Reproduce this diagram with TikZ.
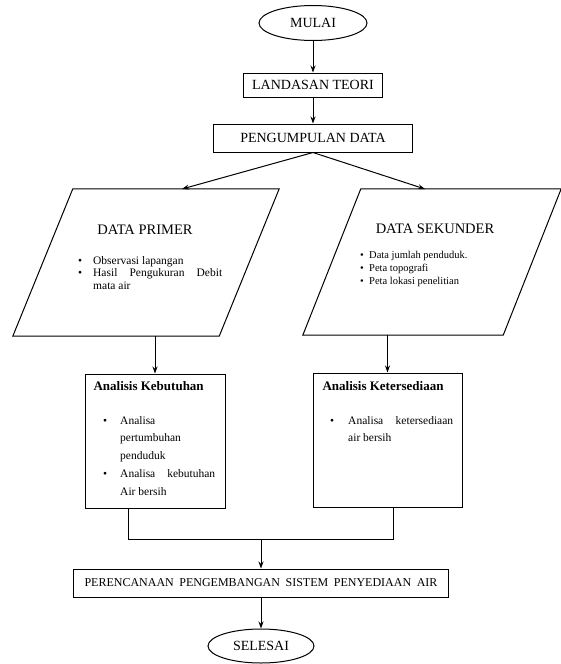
\documentclass[tikz,border=0pt]{standalone}
\usepackage{fontspec}
\setmainfont{Liberation Serif}
\usetikzlibrary{shapes.geometric,arrows.meta}
\tikzset{term/.style={draw, ellipse, line width=1pt, inner sep=0pt, font=\fontsize{14}{16}\selectfont}}
\tikzset{proc/.style={draw, rectangle, line width=1pt, inner sep=0pt, font=\fontsize{14}{16}\selectfont}}
\tikzset{io/.style={rectangle, inner sep=0pt}}
\tikzset{flow/.style={line width=1pt, -{Stealth[length=7pt,width=5pt]}}}
\tikzset{link/.style={line width=1pt}}
\tikzset{head/.style={font=\fontsize{14.5}{17}\selectfont}}
\tikzset{sub/.style={anchor=west, font=\bfseries\fontsize{13}{15}\selectfont}}
\tikzset{list/.style={anchor=north west, align=left, inner sep=0pt}}
\newcommand{\dotitem}[1]{\makebox[#1][l]{\textbullet}}

\begin{document}
\begin{tikzpicture}[x=1pt, y=-1pt]
    \useasboundingbox (0,0) rectangle (561,664);

    \node (mulai) at (313, 23) [term, minimum width=108pt, minimum height=35pt] {MULAI};
    \node (teori) at (313, 85) [proc, minimum width=139pt, minimum height=24pt] {LANDASAN TEORI};
    \node (kumpul) at (313, 138) [proc, minimum width=199pt, minimum height=28pt] {PENGUMPULAN DATA};

    % slanted input boxes
    \node (primer) at (146, 262.5) [io, minimum width=266pt, minimum height=147pt] {};
    \draw [link] ([xshift=60pt]primer.north west) -- (primer.north east)
        -- ([xshift=-60pt]primer.south east) -- (primer.south west) -- cycle;
    \node (primer-t) at (145, 230) [head] {DATA PRIMER};
    \node (primer-l) at (78, 256) [list, font=\fontsize{11.5}{12.5}\selectfont]
        {\dotitem{15pt}Observasi lapangan\\
         \dotitem{15pt}\makebox[129pt][s]{Hasil Pengukuran Debit}\\
         \hspace*{15pt}mata air};

    \node (sekunder) at (432, 262) [io, minimum width=258pt, minimum height=146pt] {};
    \draw [link] ([xshift=58pt]sekunder.north west) -- (sekunder.north east)
        -- ([xshift=-58pt]sekunder.south east) -- (sekunder.south west) -- cycle;
    \node (sekunder-t) at (435, 229) [head] {DATA SEKUNDER};
    \node (sekunder-l) at (360, 251) [list, font=\fontsize{10.5}{13}\selectfont]
        {\dotitem{9pt}Data jumlah penduduk.\\
         \dotitem{9pt}Peta topografi\\
         \dotitem{9pt}Peta lokasi penelitian};

    \node (butuh) at (155, 441) [proc, minimum width=140pt, minimum height=134pt] {};
    \node (butuh-t) at (90, 386) [sub] {Analisis Kebutuhan};
    \node (butuh-l) at (103, 416) [list, font=\fontsize{11.5}{17.8}\selectfont]
        {\dotitem{17pt}Analisa\\
         \hspace*{17pt}pertumbuhan\\
         \hspace*{17pt}penduduk\\
         \dotitem{17pt}\makebox[95pt][s]{Analisa kebutuhan}\\
         \hspace*{17pt}Air bersih};

    \node (sedia) at (387.5, 440) [proc, minimum width=149pt, minimum height=134pt] {};
    \node (sedia-t) at (319, 386) [sub] {Analisis Ketersediaan};
    \node (sedia-l) at (330, 416) [list, font=\fontsize{11.5}{17}\selectfont]
        {\dotitem{18pt}\makebox[105pt][s]{Analisa ketersediaan}\\
         \hspace*{18pt}air bersih};

    \node (rencana) at (261, 583) [proc, font=\fontsize{12}{14}\selectfont, minimum width=375pt, minimum height=28pt]
        {\makebox[353pt][s]{PERENCANAAN PENGEMBANGAN SISTEM PENYEDIAAN AIR}};
    \node (selesai) at (261, 646) [term, minimum width=106pt, minimum height=34pt] {SELESAI};

    \coordinate (primer-in) at (182, 189);
    \coordinate (sekunder-in) at (425, 189);
    \coordinate (join-l) at (128, 539);
    \coordinate (join-r) at (393, 539);
    \coordinate (join-m) at (261, 539);

    \draw (mulai) edge [flow] (teori);
    \draw (teori) edge [flow] (kumpul);
    \draw (kumpul.south) edge [flow] (primer-in);
    \draw (kumpul.south) edge [flow] (sekunder-in);
    \draw (primer.south -| butuh.north) edge [flow] (butuh.north);
    \draw (sekunder.south -| sedia.north) edge [flow] (sedia.north);
    \draw [link] (butuh.south -| join-l) -- (join-l) -- (join-r) -- (sedia.south -| join-r);
    \draw (join-m) edge [flow] (rencana);
    \draw (rencana) edge [flow] (selesai);
\end{tikzpicture}
\end{document}
